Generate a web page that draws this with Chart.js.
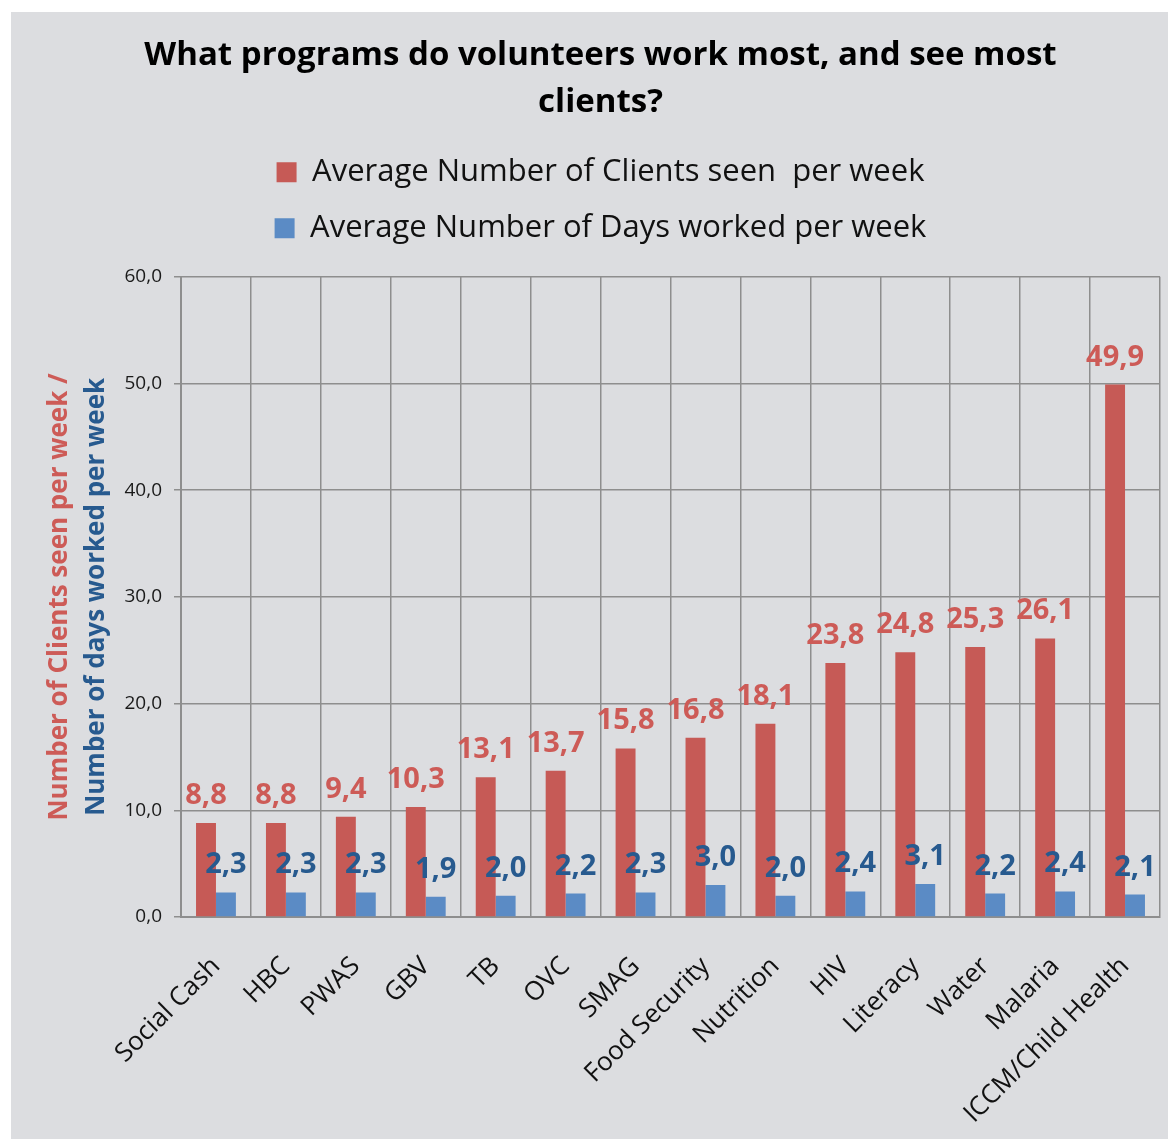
<!DOCTYPE html>
<html>
<head>
<meta charset="utf-8">
<script src="https://cdn.jsdelivr.net/npm/chart.js@4.4.0/dist/chart.umd.min.js"></script>
<style>
  html, body { margin: 0; padding: 0; background: #ffffff; }
  #wrap { position: absolute; left: 11px; top: 12px; width: 1157px; height: 1127px; background: #dcdde0; }
</style>
</head>
<body>
<div id="wrap"><canvas id="volChart" width="1157" height="1127"></canvas></div>
<script>
// --- DATA ---
const programs = ['Social Cash', 'HBC', 'PWAS', 'GBV', 'TB', 'OVC', 'SMAG', 'Food Security',
  'Nutrition', 'HIV', 'Literacy', 'Water', 'Malaria', 'ICCM/Child Health'];
const clientsPerWeek = [8.8, 8.8, 9.4, 10.3, 13.1, 13.7, 15.8, 16.8, 18.1, 23.8, 24.8, 25.3, 26.1, 49.9];
const daysPerWeek = [2.3, 2.3, 2.3, 1.9, 2.0, 2.2, 2.3, 3.0, 2.0, 2.4, 3.1, 2.2, 2.4, 2.1];
const seriesNames = ['Average Number of Clients seen  per week', 'Average Number of Days worked per week'];
const yTitleLines = ['Number of Clients seen per week /', 'Number of days worked per week'];
const chartTitle = ['What programs do volunteers work most, and see most', 'clients?'];
const yMin = 0, yMax = 60, yStep = 10;

// --- COLOURS ---
const RED = '#c65a56';
const BLUE = '#5b8bc5';
const RED_TEXT = '#cd5b57';
const BLUE_TEXT = '#275a8f';
const GRID = '#8e8e8e';

// numbers use a decimal comma, like the original
const fmt = v => Number(v).toFixed(1).replace('.', ',');

// value labels above each bar
const barLabels = {
  id: 'barLabels',
  afterDatasetsDraw(chart) {
    const ctx = chart.ctx;
    chart.data.datasets.forEach((ds, i) => {
      const meta = chart.getDatasetMeta(i);
      ctx.save();
      ctx.font = 'bold 29px "Open Sans"';
      ctx.fillStyle = i === 0 ? RED_TEXT : BLUE_TEXT;
      ctx.textAlign = 'center';
      ctx.textBaseline = 'alphabetic';
      meta.data.forEach((bar, j) => {
        ctx.fillText(fmt(ds.data[j]), bar.x, bar.y - 19);
      });
      ctx.restore();
    });
  }
};

// two-colour y axis title
const yTitle = {
  id: 'yTitle',
  afterDraw(chart) {
    const { ctx, chartArea } = chart;
    const cy = (chartArea.top + chartArea.bottom) / 2;
    const xs = [49, 86];
    const colors = [RED_TEXT, BLUE_TEXT];
    yTitleLines.forEach((line, i) => {
      ctx.save();
      ctx.font = 'bold 26px "Open Sans"';
      ctx.fillStyle = colors[i];
      ctx.textAlign = 'center';
      ctx.textBaseline = 'middle';
      ctx.translate(xs[i], cy);
      ctx.rotate(-Math.PI / 2);
      ctx.fillText(line, 0, 0);
      ctx.restore();
    });
  }
};

// keep the plot edges where they are, whatever the rotated labels want
const noSidePad = scale => { scale.paddingLeft = 0; scale.paddingRight = 0; };

new Chart(document.getElementById('volChart'), {
  type: 'bar',
  data: {
    labels: programs,
    datasets: [
      { label: seriesNames[0], data: clientsPerWeek, backgroundColor: RED, borderWidth: 0,
        categoryPercentage: 0.57, barPercentage: 1.0 },
      { label: seriesNames[1], data: daysPerWeek, backgroundColor: BLUE, borderWidth: 0,
        categoryPercentage: 0.57, barPercentage: 1.0 }
    ]
  },
  options: {
    responsive: false,
    animation: false,
    layout: { padding: { left: 30, right: 8, top: 0, bottom: 0 } },
    plugins: {
      tooltip: { enabled: false },
      title: {
        display: true,
        text: chartTitle,
        color: '#000',
        font: { family: 'Open Sans', size: 33, weight: 'bold', lineHeight: 1.42 },
        padding: { top: 20, bottom: 6 }
      },
      legend: {
        display: true,
        position: 'top',
        labels: {
          color: '#111',
          font: { family: 'Open Sans', size: 31 },
          boxWidth: 20,
          boxHeight: 20,
          padding: 25
        }
      }
    },
    scales: {
      // empty top axis, only used as a spacer between legend and plot
      gap: {
        type: 'category',
        position: 'top',
        grid: { display: false },
        border: { display: false },
        ticks: { display: false },
        afterFit(scale) { scale.height = 23; noSidePad(scale); }
      },
      x: {
        grid: { color: GRID, lineWidth: 1.5, offset: true, drawTicks: false },
        border: { color: GRID, width: 2 },
        ticks: {
          color: '#111',
          font: { family: 'Open Sans', size: 26 },
          minRotation: 45, maxRotation: 45,
          padding: 34
        },
        afterFit(scale) { scale.height = 222; noSidePad(scale); }
      },
      y: {
        min: yMin, max: yMax,
        grid: { color: GRID, lineWidth: 1.5, tickLength: 7 },
        border: { color: GRID, width: 2 },
        ticks: {
          stepSize: yStep,
          color: '#1a1a1a',
          font: { family: 'Open Sans', size: 19 },
          padding: 12,
          callback: v => fmt(v)
        },
        afterFit(scale) { scale.width = 140; }
      }
    }
  },
  plugins: [barLabels, yTitle]
});
</script>
</body>
</html>
